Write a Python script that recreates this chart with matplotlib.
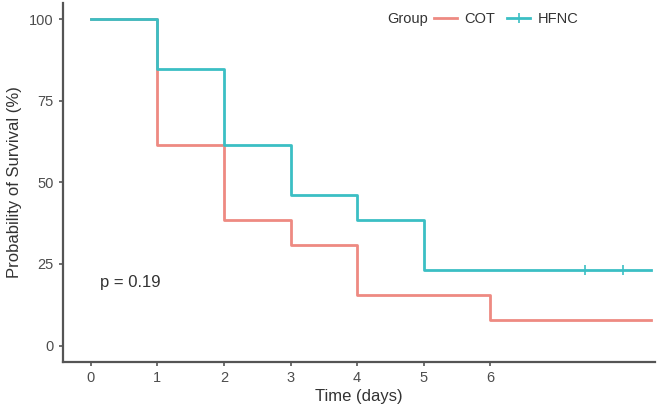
import numpy as np
import matplotlib
matplotlib.use("Agg")
import matplotlib.pyplot as plt
from matplotlib.lines import Line2D
from matplotlib.offsetbox import HPacker

plt.rcParams['font.family'] = ['Liberation Sans', 'DejaVu Sans']

# Kaplan-Meier step data
cot_time = [0, 1, 2, 3, 4, 6, 8.42]
cot_surv = [100, 61.5, 38.5, 30.8, 15.4, 7.7, 7.7]
hfnc_time = [0, 1, 2, 3, 4, 5, 8.42]
hfnc_surv = [100, 84.6, 61.5, 46.2, 38.5, 23.1, 23.1]
hfnc_censor_time = [7.43, 8.0]
hfnc_censor_surv = [23.1, 23.1]
x_ticks = [0, 1, 2, 3, 4, 5, 6]
y_ticks = [0, 25, 50, 75, 100]

cot_col = "#ee8a82"
hfnc_col = "#3bbfc4"
axis_col = "#555555"

fig = plt.figure(figsize=(6.62, 4.08), dpi=100)
ax = fig.add_axes([0.095, 0.113, 0.895, 0.88])

ax.step(cot_time, cot_surv, where="post", color=cot_col, lw=2.0)
ax.step(hfnc_time, hfnc_surv, where="post", color=hfnc_col, lw=2.0)
ax.plot(hfnc_censor_time, hfnc_censor_surv, ls="none", marker="|",
        ms=7, mew=1.2, color=hfnc_col)

ax.set_xlim(-0.42, 8.48)
ax.set_ylim(-5, 105)
ax.set_xticks(x_ticks)
ax.set_yticks(y_ticks)

for s in ["top", "right"]:
    ax.spines[s].set_visible(False)
for s in ["left", "bottom"]:
    ax.spines[s].set_color(axis_col)
    ax.spines[s].set_linewidth(1.6)
ax.tick_params(colors=axis_col, labelcolor="#4d4d4d", labelsize=10.5,
               length=3, width=1.2)

ax.set_xlabel("Time (days)", fontsize=12, color="#333333", labelpad=3)
ax.set_ylabel("Probability of Survival (%)", fontsize=12, color="#333333", labelpad=5)

ax.text(0.14, 19.3, "p = 0.19", fontsize=12, color="#333333", va="center", ha="left")

handles = [Line2D([], [], color=cot_col, lw=2.0),
           Line2D([], [], color=hfnc_col, lw=2.0, marker="|", ms=7, mew=1.2)]
leg = ax.legend(handles, ["COT", "HFNC"], title="Group", ncol=2, frameon=False,
                loc="upper right", bbox_to_anchor=(0.885, 1.0), fontsize=10.5,
                title_fontsize=10.5, handlelength=1.6, columnspacing=0.8,
                handletextpad=0.5, borderaxespad=0.2)
# put the title inline with the entries, like ggplot's top legend
title_box = leg._legend_box._children[0]
entries_box = leg._legend_box._children[1]
leg._legend_box._children = [HPacker(pad=0, sep=4, children=[title_box, entries_box],
                                     align="center")]
for t in leg.get_texts():
    t.set_color("#333333")
leg.get_title().set_color("#333333")

fig.savefig("out.png", dpi=100)
